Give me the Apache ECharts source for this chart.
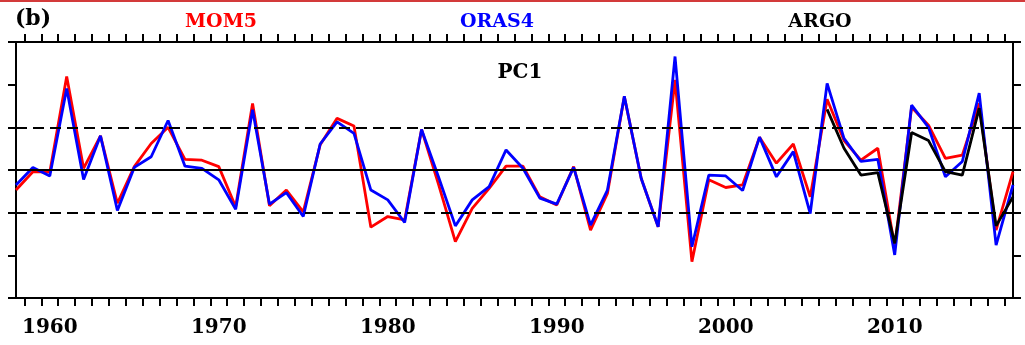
<!DOCTYPE html>
<html>
<head>
<meta charset="utf-8">
<script src="https://cdn.jsdelivr.net/npm/echarts@6/dist/echarts.min.js"></script>
<style>html,body{margin:0;padding:0;background:#fff;}#c{width:1025px;height:345px;}</style>
</head>
<body>
<div id="c"></div>
<script>
const years = [];
for (let y = 1958; y <= 2017; y++) years.push(y);
const mom5 = [-0.47,-0.04,-0.05,2.19,0.04,0.80,-0.78,0.08,0.62,1.00,
  0.25,0.23,0.08,-0.86,1.56,-0.84,-0.47,-0.98,0.59,1.21,
  1.03,-1.34,-1.09,-1.17,0.95,-0.33,-1.68,-0.90,-0.43,0.09,
  0.09,-0.63,-0.82,0.08,-1.41,-0.55,1.72,-0.20,-1.33,2.11,
  -2.15,-0.23,-0.41,-0.35,0.77,0.16,0.61,-0.63,1.66,0.69,
  0.23,0.51,-1.80,1.47,1.05,0.27,0.35,1.56,-1.41,-0.04];
const oras4 = [-0.35,0.06,-0.14,1.91,-0.22,0.80,-0.95,0.06,0.31,1.16,
  0.09,0.04,-0.23,-0.92,1.41,-0.80,-0.53,-1.09,0.61,1.13,
  0.86,-0.47,-0.70,-1.23,0.95,-0.16,-1.31,-0.70,-0.39,0.47,
  0.04,-0.66,-0.80,0.06,-1.29,-0.47,1.73,-0.20,-1.33,2.66,
  -1.80,-0.12,-0.14,-0.48,0.77,-0.16,0.43,-1.02,2.03,0.74,
  0.20,0.25,-1.99,1.52,1.00,-0.16,0.20,1.80,-1.76,-0.35];
const argoYears = [2006,2007,2008,2009,2010,2011,2012,2013,2014,2015,2016,2017];
const argo = [1.42,0.51,-0.12,-0.06,-1.72,0.88,0.69,-0.04,-0.12,1.45,-1.31,-0.63];
const yearLabels = [1960,1970,1980,1990,2000,2010];
const yTicks = [-3,-2,-1,0,1,2,3];
const refSolid = [0];
const refDashed = [-1,1];

const halfYears = [];
for (let y = 1958; y < 2017; y++) halfYears.push(y + 0.5);

const FONT = 'DejaVu Serif';
const pair = (xs, ys) => xs.map((x, i) => [x, ys[i]]);

const xBase = {
  type: 'value', min: 1958, max: 2017,
  axisLine: {show: true, onZero: false, lineStyle: {color: '#000', width: 2}},
  splitLine: {show: false},
  axisTick: {show: true, inside: false, length: 8, customValues: halfYears, lineStyle: {color: '#000', width: 2}}
};
const yBase = {
  type: 'value', min: -3, max: 3, interval: 1,
  axisLine: {show: true, onZero: false, lineStyle: {color: '#000', width: 2}},
  splitLine: {show: false},
  axisLabel: {show: false},
  axisTick: {show: true, inside: false, length: 8, customValues: yTicks, lineStyle: {color: '#000', width: 2}}
};

const chart = echarts.init(document.getElementById('c'), null, {renderer: 'canvas'});
chart.setOption({
  animation: false,
  backgroundColor: '#fff',
  grid: {left: 16, right: 12, top: 42, bottom: 47, containLabel: false},
  xAxis: [
    Object.assign({}, xBase, {position: 'bottom',
      axisLabel: {show: true, customValues: yearLabels, formatter: v => String(v), color: '#000', fontFamily: FONT, fontWeight: 'bold', fontSize: 20, margin: 20}}),
    Object.assign({}, xBase, {position: 'top', axisLabel: {show: false}})
  ],
  yAxis: [
    Object.assign({}, yBase, {position: 'left'}),
    Object.assign({}, yBase, {position: 'right'})
  ],
  graphic: [
    {type: 'rect', left: 0, top: 0, shape: {width: 1025, height: 2}, style: {fill: '#d33a3a'}},
    {type: 'text', x: 33, y: 19, style: {text: '(b)', fill: '#000', font: 'bold 22px "DejaVu Serif"', align: 'center', verticalAlign: 'middle'}},
    {type: 'text', x: 221, y: 22, style: {text: 'MOM5', fill: '#ff0000', font: 'bold 19px "DejaVu Serif"', align: 'center', verticalAlign: 'middle'}},
    {type: 'text', x: 497, y: 22, style: {text: 'ORAS4', fill: '#0000ff', font: 'bold 19px "DejaVu Serif"', align: 'center', verticalAlign: 'middle'}},
    {type: 'text', x: 820, y: 22, style: {text: 'ARGO', fill: '#000', font: 'bold 19px "DejaVu Serif"', align: 'center', verticalAlign: 'middle'}},
    {type: 'text', x: 520, y: 73, style: {text: 'PC1', fill: '#000', font: 'bold 20px "DejaVu Serif"', align: 'center', verticalAlign: 'middle'}}
  ],
  series: [
    {type: 'line', data: [], z: 1, silent: true,
      markLine: {silent: true, symbol: 'none', label: {show: false},
        data: refSolid.map(v => ({yAxis: v, lineStyle: {color: '#000', width: 2, type: 'solid'}}))
          .concat(refDashed.map(v => ({yAxis: v, lineStyle: {color: '#000', width: 2, type: [11, 6]}})))}},
    {name: 'MOM5', type: 'line', z: 2, data: pair(years, mom5), showSymbol: false,
      lineStyle: {color: '#ff0000', width: 2.8}, itemStyle: {color: '#ff0000'}},
    {name: 'ORAS4', type: 'line', z: 3, data: pair(years, oras4), showSymbol: false,
      lineStyle: {color: '#0000ff', width: 2.8}, itemStyle: {color: '#0000ff'}},
    {name: 'ARGO', type: 'line', z: 4, data: pair(argoYears, argo), showSymbol: false,
      lineStyle: {color: '#000', width: 2.8}, itemStyle: {color: '#000'}}
  ]
});
</script>
</body>
</html>
